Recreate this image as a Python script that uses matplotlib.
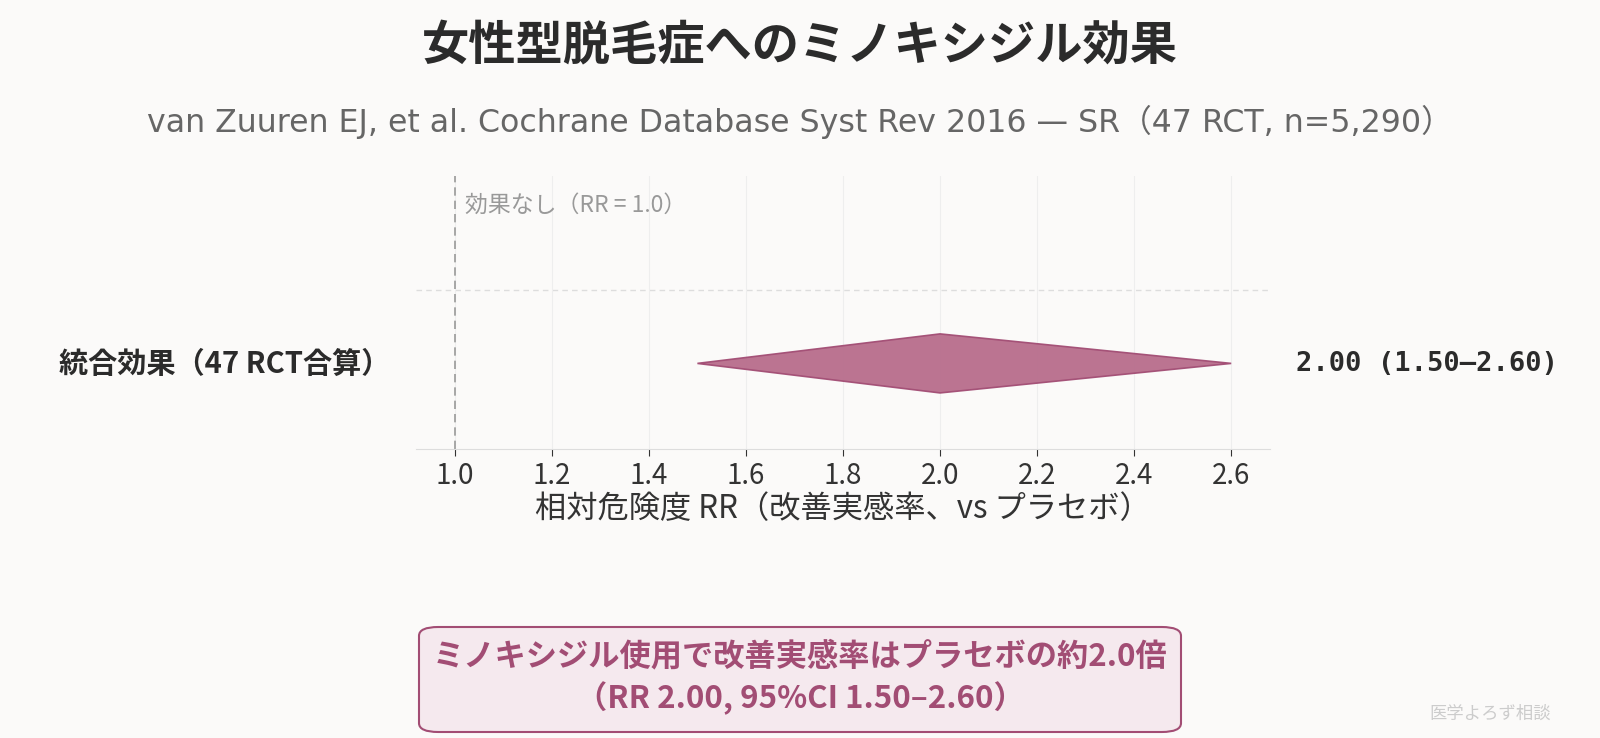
import matplotlib
matplotlib.use("Agg")
import matplotlib.pyplot as plt
from matplotlib.patches import Polygon, FancyBboxPatch

plt.rcParams['font.family'] = ['Noto Sans CJK JP', 'DejaVu Sans']

# data
label = "統合効果（47 RCT合算）"
rr = 2.00
ci_low = 1.50
ci_high = 2.60
xticks = [1.0, 1.2, 1.4, 1.6, 1.8, 2.0, 2.2, 2.4, 2.6]

title = "女性型脱毛症へのミノキシジル効果"
subtitle = "van Zuuren EJ, et al. Cochrane Database Syst Rev 2016 — SR（47 RCT, n=5,290）"
xlabel = "相対危険度 RR（改善実感率、vs プラセボ）"
summary = "ミノキシジル使用で改善実感率はプラセボの約2.0倍\n（RR 2.00, 95%CI 1.50–2.60）"

bg = "#fbfaf9"
pink = "#b86d8c"
dark_pink = "#a24d74"

fig = plt.figure(figsize=(16, 7.38), dpi=100, facecolor=bg)
ax = fig.add_axes([416 / 1600, 1 - 449 / 738, (1270 - 416) / 1600, (449 - 176) / 738])
ax.set_facecolor(bg)

# diamond
y0 = 0
h = 0.2
diamond = Polygon([[ci_low, y0], [rr, y0 + h], [ci_high, y0], [rr, y0 - h]],
                  closed=True, facecolor=pink, edgecolor=dark_pink, lw=1.2, alpha=0.95, zorder=3)
ax.add_patch(diamond)

ax.axvline(1.0, color="#999999", ls=(0, (5, 3)), lw=1.2, zorder=2)
ax.axhline(0.5, color="#dddddd", ls=(0, (4, 3)), lw=1.0, zorder=1)
ax.text(1.02, 1.07, "効果なし（RR = 1.0）", color="#999999", fontsize=16.5, va="center", ha="left")

ax.set_xlim(0.92, 2.68)
ax.set_ylim(-0.58, 1.27)
ax.set_xticks(xticks)
ax.set_xticklabels([f"{t:.1f}" for t in xticks], fontsize=20, color="#333333")
ax.set_yticks([])
ax.grid(axis="x", color="#eeeeee", lw=0.8, zorder=0)
for s in ["top", "right", "left"]:
    ax.spines[s].set_visible(False)
ax.spines["bottom"].set_color("#dddddd")
ax.tick_params(axis="x", length=5, color="#333333", pad=4)
ax.set_xlabel(xlabel, fontsize=22.5, color="#333333", labelpad=1)

# labels outside axes
fig.text(390 / 1600, 1 - 364 / 738, label, fontsize=21, fontweight="bold",
         color="#2b2b2b", ha="right", va="center")
fig.text(1296 / 1600, 1 - 364 / 738, f"{rr:.2f} ({ci_low:.2f}–{ci_high:.2f})",
         fontsize=19.5, fontweight="bold", family="DejaVu Sans Mono",
         color="#2b2b2b", ha="left", va="center")

fig.text(0.5, 1 - 46 / 738, title, fontsize=34, fontweight="bold", color="#2b2b2b",
         ha="center", va="center")
fig.text(0.5, 1 - 122 / 738, subtitle, fontsize=22.8, color="#666666", ha="center", va="center",
         family=["DejaVu Sans", "Noto Sans CJK JP"])

# summary box
box = FancyBboxPatch((419 / 1600, 1 - 732 / 738), (1181 - 419) / 1600, (732 - 627) / 738,
                     boxstyle="round,pad=0,rounding_size=0.012", transform=fig.transFigure,
                     facecolor="#f5e9ee", edgecolor=dark_pink, lw=1.5)
fig.patches.append(box)
fig.text(800 / 1600, 1 - 678 / 738, summary, fontsize=22.5, fontweight="bold", color=dark_pink,
         ha="center", va="center", linespacing=1.35)

fig.text(1490 / 1600, 1 - 714 / 738, "医学よろず相談", fontsize=12.5, color="#cccccc",
         ha="center", va="center")

fig.savefig("out.png", dpi=100, facecolor=bg)
